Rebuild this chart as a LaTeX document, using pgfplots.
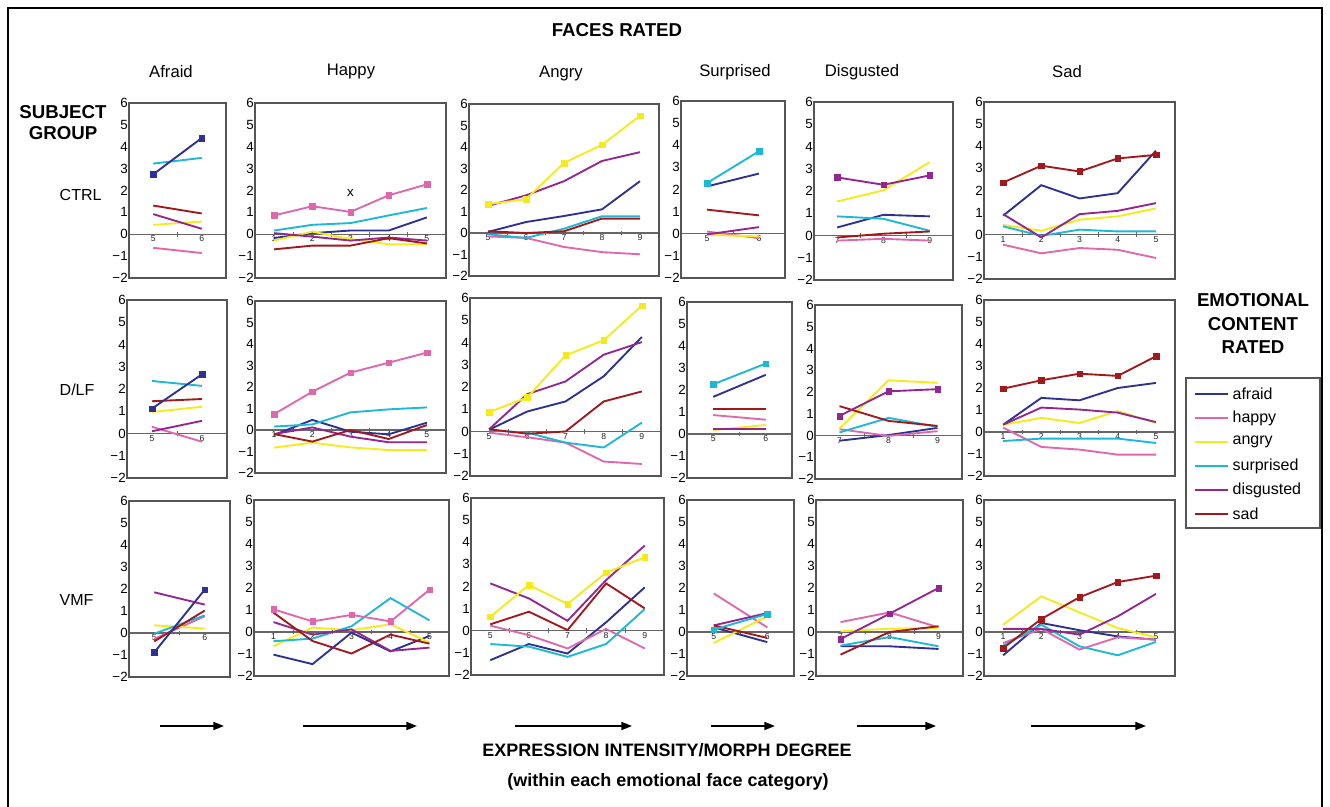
\documentclass[border=0pt]{standalone}
\usepackage{fontspec}
\setmainfont{Liberation Sans}
\usepackage{pgfplots}
\pgfplotsset{compat=1.18}
\usetikzlibrary{arrows.meta}
\definecolor{afraidc}{HTML}{2E3192}
\definecolor{happyc}{HTML}{DF67AE}
\definecolor{angryc}{HTML}{F4EA1C}
\definecolor{surpc}{HTML}{1DB8D4}
\definecolor{disgc}{HTML}{92278F}
\definecolor{sadc}{HTML}{A1191D}
\definecolor{boxc}{HTML}{555555}
\definecolor{zeroc}{HTML}{666666}
\pgfplotsset{
 panel/.style={
  scale only axis, anchor=south west, clip=false,
  ymin=-2, ymax=6, ytick={-2,-1,0,1,2,3,4,5,6},
  yticklabels={−2,−1,0,1,2,3,4,5,6},
  axis x line=middle, axis y line=left,
  hide obscured x ticks=false, hide obscured y ticks=false,
  axis line style={-},
  x axis line style={draw=zeroc, line width=0.9pt},
  y axis line style={draw=black, line width=0.8pt},
  major tick length=0pt, minor tick length=3.5pt,
  minor tick style={draw=zeroc, line width=0.5pt},
  tick align=center,
  yticklabel style={font=\fontsize{10}{11}\selectfont, inner sep=0.8pt},
  xticklabel style={font=\fontsize{6.5}{7}\selectfont, inner sep=1pt, text=black!85},
  /pgf/number format/assume math mode=true,
  every axis plot/.append style={line width=1.4pt, mark size=2.1pt, mark options={line width=0.3pt}},
 },
 catA/.style={xmin=4.5,xmax=6.5,xtick={5,6},minor xtick={4.5,5.5,6.5}},
 catH/.style={xmin=0.5,xmax=5.5,xtick={1,2,3,4,5},minor xtick={0.5,1.5,2.5,3.5,4.5,5.5}},
 catN/.style={xmin=4.5,xmax=9.5,xtick={5,6,7,8,9},minor xtick={4.5,5.5,6.5,7.5,8.5,9.5}},
 catD/.style={xmin=6.5,xmax=9.5,xtick={7,8,9},minor xtick={6.5,7.5,8.5,9.5}},
 afr/.style={afraidc, mark=none}, hap/.style={happyc, mark=none}, ang/.style={angryc, mark=none},
 sur/.style={surpc, mark=none}, dis/.style={disgc, mark=none}, sad/.style={sadc, mark=none},
 mk/.style={mark=square*},
}
\newcommand{\pbox}{\draw[boxc, line width=0.8pt] (rel axis cs:0,0) rectangle (rel axis cs:1,1);}
\begin{document}
\begin{tikzpicture}[x=0.75pt,y=0.75pt]
\useasboundingbox (0,0) rectangle (1330,806);
\fill[white] (0,0) rectangle (1330,806);
\draw[black, line width=1pt] (8,-10) -- (8,798) -- (1322,798) -- (1322,-10);

% ---------------- Row 1 (CTRL)
\begin{axis}[panel, catA, at={(129*0.75pt,528*0.75pt)}, width=72.75pt, height=131.25pt]
\pbox
\addplot[hap] coordinates {(5,-0.62)(6,-0.86)};
\addplot[ang] coordinates {(5,0.43)(6,0.58)};
\addplot[sur] coordinates {(5,3.23)(6,3.49)};
\addplot[dis] coordinates {(5,0.92)(6,0.25)};
\addplot[sad] coordinates {(5,1.31)(6,0.95)};
\addplot[afr,mk] coordinates {(5,2.74)(6,4.40)};
\end{axis}
\begin{axis}[panel, catH, at={(255*0.75pt,528*0.75pt)}, width=143.25pt, height=131.25pt]
\pbox
\addplot[afr] coordinates {(1,-0.17)(2,0.05)(3,0.17)(4,0.17)(5,0.77)};
\addplot[ang] coordinates {(1,-0.29)(2,0.12)(3,-0.22)(4,-0.46)(5,-0.46)};
\addplot[sur] coordinates {(1,0.17)(2,0.43)(3,0.51)(4,0.86)(5,1.2)};
\addplot[dis] coordinates {(1,0.05)(2,-0.11)(3,-0.29)(4,-0.15)(5,-0.29)};
\addplot[sad] coordinates {(1,-0.69)(2,-0.52)(3,-0.52)(4,-0.18)(5,-0.42)};
\addplot[hap,mk] coordinates {(1,0.86)(2,1.28)(3,1.02)(4,1.78)(5,2.28)};
\node[font=\fontsize{10}{10}\selectfont] at (axis cs:3,1.9) {x};
\end{axis}
\begin{axis}[panel, catN, at={(469*0.75pt,530*0.75pt)}, width=142.5pt, height=129pt]
\pbox
\addplot[afr] coordinates {(5,0.05)(6,0.51)(7,0.79)(8,1.1)(9,2.41)};
\addplot[hap] coordinates {(5,-0.16)(6,-0.23)(7,-0.65)(8,-0.89)(9,-0.99)};
\addplot[sur] coordinates {(5,-0.06)(6,-0.23)(7,0.2)(8,0.78)(9,0.78)};
\addplot[dis] coordinates {(5,1.26)(6,1.75)(7,2.41)(8,3.35)(9,3.76)};
\addplot[sad] coordinates {(5,0.08)(6,0)(7,0.08)(8,0.67)(9,0.67)};
\addplot[ang,mk] coordinates {(5,1.34)(6,1.57)(7,3.26)(8,4.1)(9,5.45)};
\end{axis}
\begin{axis}[panel, catA, at={(681*0.75pt,528*0.75pt)}, width=78pt, height=132.75pt]
\pbox
\addplot[afr] coordinates {(5,2.14)(6,2.72)};
\addplot[hap] coordinates {(5,0.1)(6,-0.2)};
\addplot[ang] coordinates {(5,-0.05)(6,-0.12)};
\addplot[dis] coordinates {(5,-0.03)(6,0.3)};
\addplot[sad] coordinates {(5,1.09)(6,0.83)};
\addplot[sur,mk] coordinates {(5,2.29)(6,3.73)};
\end{axis}
\begin{axis}[panel, catD, at={(814*0.75pt,526*0.75pt)}, width=104.25pt, height=133.5pt]
\pbox
\addplot[afr] coordinates {(7,0.36)(8,0.93)(9,0.86)};
\addplot[hap] coordinates {(7,-0.23)(8,-0.15)(9,-0.23)};
\addplot[ang] coordinates {(7,1.53)(8,2.03)(9,3.3)};
\addplot[sur] coordinates {(7,0.86)(8,0.75)(9,0.21)};
\addplot[sad] coordinates {(7,-0.09)(8,0.08)(9,0.18)};
\addplot[dis,mk] coordinates {(7,2.61)(8,2.28)(9,2.7)};
\end{axis}
\begin{axis}[panel, catH, at={(984*0.75pt,527*0.75pt)}, width=143.25pt, height=132.75pt]
\pbox
\addplot[afr] coordinates {(1,0.86)(2,2.24)(3,1.64)(4,1.88)(5,3.8)};
\addplot[hap] coordinates {(1,-0.45)(2,-0.84)(3,-0.6)(4,-0.68)(5,-1.05)};
\addplot[ang] coordinates {(1,0.44)(2,0.18)(3,0.68)(4,0.83)(5,1.19)};
\addplot[sur] coordinates {(1,0.38)(2,-0.05)(3,0.23)(4,0.15)(5,0.15)};
\addplot[dis] coordinates {(1,0.93)(2,-0.12)(3,0.93)(4,1.08)(5,1.43)};
\addplot[sad,mk] coordinates {(1,2.36)(2,3.12)(3,2.86)(4,3.45)(5,3.61)};
\end{axis}

% ---------------- Row 2 (D/LF)
\begin{axis}[panel, catA, at={(127*0.75pt,328*0.75pt)}, width=75pt, height=133.5pt]
\pbox
\addplot[hap] coordinates {(5,0.3)(6,-0.37)};
\addplot[ang] coordinates {(5,0.97)(6,1.2)};
\addplot[sur] coordinates {(5,2.36)(6,2.14)};
\addplot[dis] coordinates {(5,0.1)(6,0.57)};
\addplot[sad] coordinates {(5,1.45)(6,1.55)};
\addplot[afr,mk] coordinates {(5,1.12)(6,2.66)};
\end{axis}
\begin{axis}[panel, catH, at={(255*0.75pt,333*0.75pt)}, width=143.25pt, height=129pt]
\pbox
\addplot[afr] coordinates {(1,-0.23)(2,0.47)(3,-0.08)(4,-0.2)(5,0.34)};
\addplot[ang] coordinates {(1,-0.82)(2,-0.59)(3,-0.81)(4,-0.93)(5,-0.93)};
\addplot[sur] coordinates {(1,0.16)(2,0.26)(3,0.82)(4,0.96)(5,1.05)};
\addplot[dis] coordinates {(1,-0.19)(2,0.12)(3,-0.31)(4,-0.57)(5,-0.57)};
\addplot[sad] coordinates {(1,-0.19)(2,-0.54)(3,0)(4,-0.42)(5,0.23)};
\addplot[hap,mk] coordinates {(1,0.74)(2,1.78)(3,2.67)(4,3.13)(5,3.6)};
\end{axis}
\begin{axis}[panel, catN, at={(470*0.75pt,330*0.75pt)}, width=143.25pt, height=133.5pt]
\pbox
\addplot[afr] coordinates {(5,0.08)(6,0.9)(7,1.35)(8,2.48)(9,4.25)};
\addplot[hap] coordinates {(5,-0.05)(6,-0.26)(7,-0.5)(8,-1.35)(9,-1.46)};
\addplot[sur] coordinates {(5,0.05)(6,-0.05)(7,-0.5)(8,-0.72)(9,0.4)};
\addplot[dis] coordinates {(5,0.1)(6,1.68)(7,2.25)(8,3.45)(9,4.02)};
\addplot[sad] coordinates {(5,0.1)(6,-0.1)(7,0)(8,1.35)(9,1.8)};
\addplot[ang,mk] coordinates {(5,0.87)(6,1.53)(7,3.42)(8,4.1)(9,5.66)};
\end{axis}
\begin{axis}[panel, catA, at={(687*0.75pt,328*0.75pt)}, width=78.75pt, height=132pt]
\pbox
\addplot[afr] coordinates {(5,1.69)(6,2.69)};
\addplot[hap] coordinates {(5,0.86)(6,0.65)};
\addplot[ang] coordinates {(5,0.18)(6,0.41)};
\addplot[dis] coordinates {(5,0.23)(6,0.23)};
\addplot[sad] coordinates {(5,1.13)(6,1.13)};
\addplot[sur,mk] coordinates {(5,2.26)(6,3.2)};
\end{axis}
\begin{axis}[panel, catD, at={(815*0.75pt,327*0.75pt)}, width=110.25pt, height=130.5pt]
\pbox
\addplot[afr] coordinates {(7,-0.24)(8,0.02)(9,0.35)};
\addplot[hap] coordinates {(7,0.29)(8,-0.02)(9,0.2)};
\addplot[ang] coordinates {(7,0.32)(8,2.54)(9,2.42)};
\addplot[sur] coordinates {(7,0.14)(8,0.81)(9,0.4)};
\addplot[sad] coordinates {(7,1.35)(8,0.67)(9,0.44)};
\addplot[dis,mk] coordinates {(7,0.9)(8,2.03)(9,2.13)};
\end{axis}
\begin{axis}[panel, catH, at={(984*0.75pt,330*0.75pt)}, width=143.25pt, height=132pt]
\pbox
\addplot[afr] coordinates {(1,0.33)(2,1.55)(3,1.44)(4,2.0)(5,2.23)};
\addplot[hap] coordinates {(1,0.2)(2,-0.68)(3,-0.8)(4,-1.03)(5,-1.03)};
\addplot[ang] coordinates {(1,0.33)(2,0.64)(3,0.41)(4,0.95)(5,0.41)};
\addplot[sur] coordinates {(1,-0.41)(2,-0.3)(3,-0.3)(4,-0.3)(5,-0.5)};
\addplot[dis] coordinates {(1,0.33)(2,1.11)(3,1.02)(4,0.88)(5,0.45)};
\addplot[sad,mk] coordinates {(1,1.97)(2,2.35)(3,2.65)(4,2.55)(5,3.44)};
\end{axis}

% ---------------- Row 3 (VMF)
\begin{axis}[panel, catA, at={(129*0.75pt,129*0.75pt)}, width=75.75pt, height=132pt]
\pbox
\addplot[hap] coordinates {(5,-0.27)(6,0.76)};
\addplot[ang] coordinates {(5,0.35)(6,0.2)};
\addplot[sur] coordinates {(5,-0.03)(6,0.8)};
\addplot[dis] coordinates {(5,1.85)(6,1.29)};
\addplot[sad] coordinates {(5,-0.38)(6,1.02)};
\addplot[afr,mk] coordinates {(5,-0.88)(6,1.97)};
\end{axis}
\begin{axis}[panel, catH, at={(254*0.75pt,130*0.75pt)}, width=146.25pt, height=132pt]
\pbox
\addplot[afr] coordinates {(1,-1.03)(2,-1.46)(3,-0.03)(4,-0.88)(5,-0.18)};
\addplot[ang] coordinates {(1,-0.65)(2,0.2)(3,0.08)(4,0.35)(5,-0.48)};
\addplot[sur] coordinates {(1,-0.42)(2,-0.3)(3,0.26)(4,1.54)(5,0.53)};
\addplot[dis] coordinates {(1,0.45)(2,-0.12)(3,0.12)(4,-0.86)(5,-0.71)};
\addplot[sad] coordinates {(1,0.88)(2,-0.41)(3,-0.98)(4,-0.12)(5,-0.53)};
\addplot[hap,mk] coordinates {(1,1.03)(2,0.48)(3,0.78)(4,0.48)(5,1.92)};
\end{axis}
\begin{axis}[panel, catN, at={(471*0.75pt,131*0.75pt)}, width=144.75pt, height=132.75pt]
\pbox
\addplot[afr] coordinates {(5,-1.33)(6,-0.6)(7,-1.03)(8,0.38)(9,1.96)};
\addplot[hap] coordinates {(5,0.23)(6,-0.2)(7,-0.8)(8,0.08)(9,-0.8)};
\addplot[sur] coordinates {(5,-0.6)(6,-0.72)(7,-1.18)(8,-0.6)(9,0.98)};
\addplot[dis] coordinates {(5,2.14)(6,1.46)(7,0.45)(8,2.29)(9,3.85)};
\addplot[sad] coordinates {(5,0.29)(6,0.86)(7,0.03)(8,2.14)(9,1.01)};
\addplot[ang,mk] coordinates {(5,0.63)(6,2.07)(7,1.21)(8,2.63)(9,3.32)};
\end{axis}
\begin{axis}[panel, catA, at={(687*0.75pt,130*0.75pt)}, width=80.25pt, height=132pt]
\pbox
\addplot[afr] coordinates {(5,0.21)(6,-0.46)};
\addplot[hap] coordinates {(5,1.75)(6,0.21)};
\addplot[ang] coordinates {(5,-0.5)(6,0.71)};
\addplot[dis] coordinates {(5,0.3)(6,0.86)};
\addplot[sad] coordinates {(5,0.3)(6,-0.27)};
\addplot[sur,mk] coordinates {(5,0.11)(6,0.82)};
\end{axis}
\begin{axis}[panel, catD, at={(816*0.75pt,130*0.75pt)}, width=110.25pt, height=132pt]
\pbox
\addplot[afr] coordinates {(7,-0.65)(8,-0.65)(9,-0.77)};
\addplot[hap] coordinates {(7,0.45)(8,0.89)(9,0.21)};
\addplot[ang] coordinates {(7,0.03)(8,0.15)(9,0.18)};
\addplot[sur] coordinates {(7,-0.62)(8,-0.23)(9,-0.65)};
\addplot[sad] coordinates {(7,-1.03)(8,0)(9,0.26)};
\addplot[dis,mk] coordinates {(7,-0.32)(8,0.83)(9,2.0)};
\end{axis}
\begin{axis}[panel, catH, at={(984*0.75pt,130*0.75pt)}, width=143.25pt, height=132pt]
\pbox
\addplot[afr] coordinates {(1,-1.06)(2,0.41)(3,0.08)(4,-0.2)(5,-0.35)};
\addplot[hap] coordinates {(1,-0.5)(2,0.14)(3,-0.8)(4,-0.24)(5,-0.35)};
\addplot[ang] coordinates {(1,0.33)(2,1.62)(3,0.89)(4,0.18)(5,-0.24)};
\addplot[sur] coordinates {(1,-0.62)(2,0.33)(3,-0.65)(4,-1.06)(5,-0.45)};
\addplot[dis] coordinates {(1,0.14)(2,0.14)(3,-0.12)(4,0.71)(5,1.73)};
\addplot[sad,mk] coordinates {(1,-0.73)(2,0.59)(3,1.58)(4,2.27)(5,2.56)};
\end{axis}

% ---------------- Texts
\node[font=\bfseries\fontsize{14}{16}\selectfont] at (617,776) {FACES RATED};
\begin{scope}[every node/.style={font=\fontsize{12.5}{14}\selectfont}]
\node at (171,734) {Afraid};
\node at (351,734) {Happy};
\node at (561,732) {Angry};
\node at (735,734) {Surprised};
\node at (862,734) {Disgusted};
\node at (1067,734) {Sad};
\end{scope}
\node[font=\bfseries\fontsize{14}{16}\selectfont] at (63,694) {SUBJECT};
\node[font=\bfseries\fontsize{14}{16}\selectfont] at (63,673) {GROUP};
\begin{scope}[every node/.style={font=\fontsize{12}{14}\selectfont, anchor=west}]
\node at (55,611) {CTRL};
\node at (55,416) {D/LF};
\node at (55,206) {VMF};
\end{scope}
\begin{scope}[every node/.style={font=\bfseries\fontsize{14}{16}\selectfont}]
\node at (1253,506) {EMOTIONAL};
\node at (1253,482) {CONTENT};
\node at (1253,459) {RATED};
\end{scope}
% legend
\draw[boxc, line width=0.8pt] (1186,278) rectangle (1320,428);
\begin{scope}[every node/.style={font=\fontsize{12}{14}\selectfont, anchor=west, inner sep=1pt}]
\draw[afraidc, line width=2.2pt] (1195,412) -- (1228,412); \node at (1231,412) {afraid};
\draw[happyc, line width=2.2pt] (1195,388) -- (1228,388); \node at (1231,388) {happy};
\draw[angryc, line width=2.2pt] (1195,364) -- (1228,364); \node at (1231,364) {angry};
\draw[surpc, line width=2.2pt] (1195,340) -- (1228,340); \node at (1231,340) {surprised};
\draw[disgc, line width=2.2pt] (1195,316) -- (1228,316); \node at (1231,316) {disgusted};
\draw[sadc, line width=2.2pt] (1195,292) -- (1228,292); \node at (1231,292) {sad};
\end{scope}
% arrows
\begin{scope}[line width=1.3pt, -{Triangle[length=8pt,width=6pt]}]
\draw (160,80) -- (224,80);
\draw (303,80) -- (417,80);
\draw (515,80) -- (632,80);
\draw (711,80) -- (775,80);
\draw (857,80) -- (936,80);
\draw (1031,80) -- (1146,80);
\end{scope}
\node[font=\bfseries\fontsize{13.5}{16}\selectfont] at (667,56) {EXPRESSION INTENSITY/MORPH DEGREE};
\node[font=\bfseries\fontsize{13.5}{16}\selectfont] at (668,24) {(within each emotional face category)};
\end{tikzpicture}
\end{document}
